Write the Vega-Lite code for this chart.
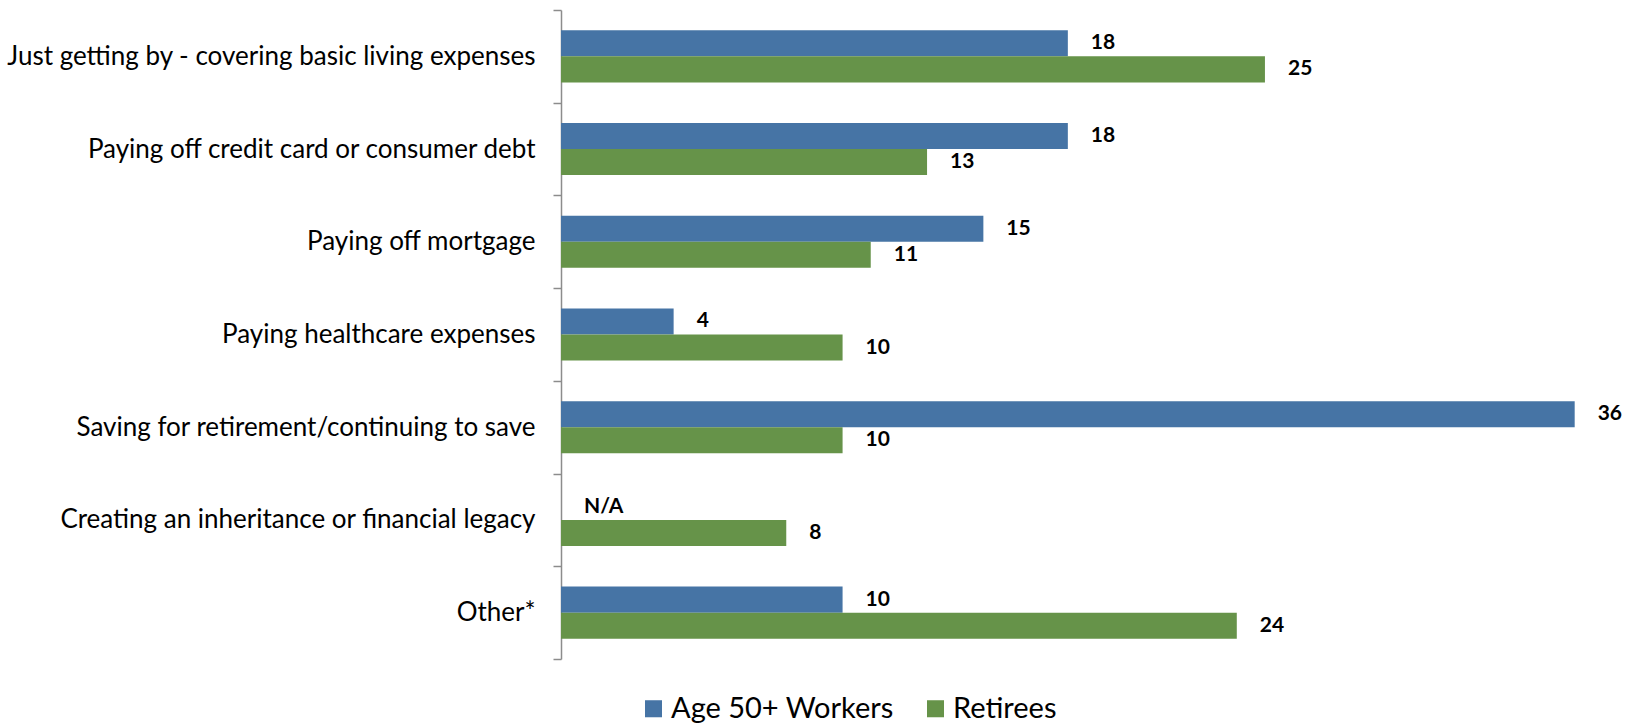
{
  "$schema": "https://vega.github.io/schema/vega-lite/v6.json",
  "autosize": {"type": "none"},
  "padding": {"left": 561, "top": 10, "right": 4, "bottom": 66},
  "width": 1070,
  "height": 649,
  "background": "white",
  "config": {
    "view": {"stroke": null},
    "font": "Lato",
    "text": {"font": "Lato"}
  },
  "data": {
    "values": [
      {"category": "Just getting by - covering basic living expenses", "group": "Age 50+ Workers", "value": 18, "label": "18"},
      {"category": "Just getting by - covering basic living expenses", "group": "Retirees", "value": 25, "label": "25"},
      {"category": "Paying off credit card or consumer debt", "group": "Age 50+ Workers", "value": 18, "label": "18"},
      {"category": "Paying off credit card or consumer debt", "group": "Retirees", "value": 13, "label": "13"},
      {"category": "Paying off mortgage", "group": "Age 50+ Workers", "value": 15, "label": "15"},
      {"category": "Paying off mortgage", "group": "Retirees", "value": 11, "label": "11"},
      {"category": "Paying healthcare expenses", "group": "Age 50+ Workers", "value": 4, "label": "4"},
      {"category": "Paying healthcare expenses", "group": "Retirees", "value": 10, "label": "10"},
      {"category": "Saving for retirement/continuing to save", "group": "Age 50+ Workers", "value": 36, "label": "36"},
      {"category": "Saving for retirement/continuing to save", "group": "Retirees", "value": 10, "label": "10"},
      {"category": "Creating an inheritance or financial legacy", "group": "Age 50+ Workers", "value": 0, "label": "N/A"},
      {"category": "Creating an inheritance or financial legacy", "group": "Retirees", "value": 8, "label": "8"},
      {"category": "Other*", "group": "Age 50+ Workers", "value": 10, "label": "10"},
      {"category": "Other*", "group": "Retirees", "value": 24, "label": "24"}
    ]
  },
  "encoding": {
    "y": {
      "field": "category",
      "type": "nominal",
      "sort": null,
      "scale": {"paddingInner": 0, "paddingOuter": 0},
      "axis": {
        "title": null,
        "tickBand": "extent",
        "domainColor": "#8c8c8c",
        "domainWidth": 1.5,
        "tickColor": "#8c8c8c",
        "tickWidth": 1.5,
        "tickSize": 8,
        "labelPadding": 18,
        "labelFont": "Lato",
        "labelFontSize": 26,
        "labelColor": "#000000",
        "labelLimit": 600
      }
    },
    "yOffset": {
      "field": "group",
      "type": "nominal",
      "sort": ["Age 50+ Workers", "Retirees"],
      "scale": {"paddingInner": 0, "paddingOuter": 0.78}
    },
    "x": {
      "field": "value",
      "type": "quantitative",
      "scale": {"domain": [0, 38], "nice": false},
      "axis": null
    }
  },
  "layer": [
    {
      "mark": {"type": "bar", "cornerRadius": 0},
      "encoding": {
        "color": {
          "field": "group",
          "type": "nominal",
          "sort": ["Age 50+ Workers", "Retirees"],
          "scale": {"domain": ["Age 50+ Workers", "Retirees"], "range": ["#4674a5", "#669349"]},
          "legend": {
            "title": null,
            "orient": "none",
            "direction": "horizontal",
            "legendX": 78,
            "legendY": 684,
            "symbolType": "square",
            "symbolSize": 290,
            "symbolStrokeWidth": 0,
            "symbolOpacity": 1,
            "labelFont": "Lato",
            "labelFontSize": 29,
            "labelColor": "#000000",
            "columnPadding": 27,
            "labelOffset": 3,
            "labelLimit": 400
          }
        }
      }
    },
    {
      "mark": {"type": "text", "align": "left", "baseline": "middle", "dx": 23, "fontSize": 21, "fontWeight": "bold", "color": "#000000", "font": "Lato"},
      "encoding": {
        "text": {"field": "label", "type": "nominal"}
      }
    }
  ]
}
